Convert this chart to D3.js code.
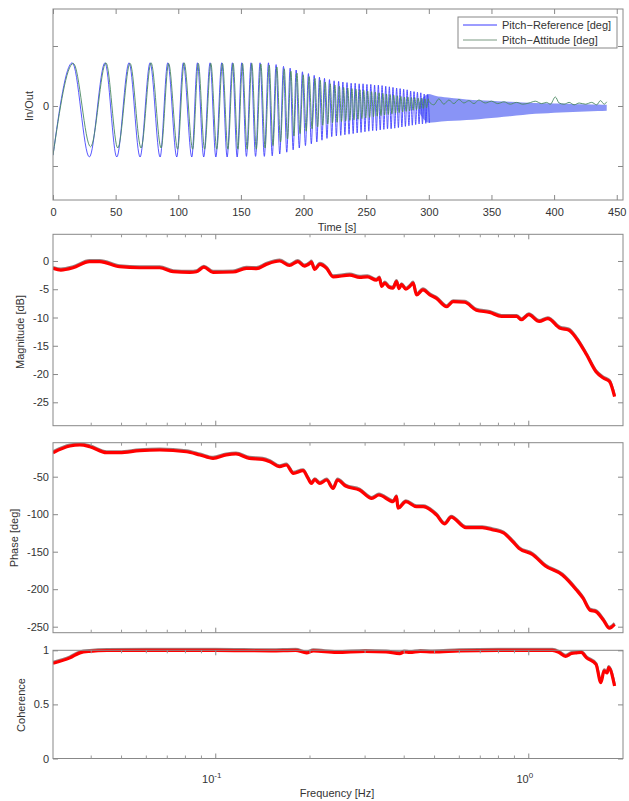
<!DOCTYPE html>
<html>
<head>
<meta charset="utf-8">
<script src="https://cdn.jsdelivr.net/npm/d3@7/dist/d3.min.js"></script>
<style>
  body { margin: 0; background: #fff; }
  svg { display: block; font-family: "Liberation Sans", Arial, Helvetica, sans-serif; }
  .tick text { fill: #333; font-size: 11px; }
  .tick line { stroke: #888; }
</style>
</head>
<body>
<svg id="chart" width="629" height="801"></svg>
<script>
// ---------------- Time-domain data ----------------
const timeTicks = [0, 50, 100, 150, 200, 250, 300, 350, 400, 450];
const inOutTicks = [-1, 0, 1];
const legendLabels = ["Pitch\u2212Reference [deg]", "Pitch\u2212Attitude [deg]"];

// Pitch reference: extrema (peaks / troughs) of the sweep
const refPeakT = [15.4, 41.5, 60.7, 77.5, 91.6, 104, 115.3, 125.4, 134.7, 143.2, 150.7, 158.1, 165.3, 172,
  178.1, 184, 189.3, 194.1, 199.1, 203.9, 208.5, 212.7, 216.7, 220.7, 224.4, 228, 231.4, 234.7, 238, 241.2,
  244.4, 247.5, 250.6, 253.7, 256.7, 259.7, 262.7, 265.6, 268.5, 271.4, 274.3, 277.1, 279.9, 282.7, 285.5,
  288.2, 290.9, 293.6, 296.3, 299];
const refPeakV = [0.72, 0.72, 0.72, 0.72, 0.72, 0.72, 0.72, 0.72, 0.72, 0.72, 0.72, 0.72, 0.72, 0.72,
  0.69, 0.66, 0.63, 0.6, 0.57, 0.54, 0.51, 0.48, 0.46, 0.44, 0.42, 0.41, 0.4, 0.39, 0.38, 0.38,
  0.37, 0.37, 0.36, 0.36, 0.35, 0.35, 0.34, 0.33, 0.32, 0.31, 0.3, 0.29, 0.28, 0.27, 0.25,
  0.24, 0.23, 0.22, 0.2, 0.19];
const refTroughT = [0, 29, 50.9, 69.5, 85.5, 98.8, 110.8, 120.3, 130, 139, 147, 154.4, 161.7, 168.7, 175,
  181, 186.6, 191.7, 196.6, 201.5, 206.2, 210.6, 214.7, 218.7, 222.5, 226.2, 229.7, 233, 236.3, 239.6,
  242.8, 245.9, 249, 252.1, 255.2, 258.2, 261.2, 264.1, 267, 269.9, 272.8, 275.7, 278.5, 281.3, 284.1,
  286.8, 289.5, 292.2, 294.9, 297.6, 300.5];
const refTroughV = [-0.82, -0.85, -0.85, -0.85, -0.85, -0.85, -0.85, -0.85, -0.85, -0.85, -0.85, -0.84, -0.84, -0.84, -0.83,
  -0.8, -0.77, -0.73, -0.7, -0.66, -0.63, -0.6, -0.57, -0.54, -0.51, -0.5, -0.49, -0.48, -0.47, -0.46,
  -0.45, -0.44, -0.43, -0.42, -0.41, -0.41, -0.4, -0.39, -0.38, -0.38, -0.37, -0.36, -0.35, -0.34, -0.33,
  -0.32, -0.31, -0.3, -0.3, -0.29, -0.28];
// dense high-frequency part of the reference: envelope band
const bandT  = [292, 300, 305, 315, 325, 335, 345, 355, 365, 375, 385, 395, 405, 415, 425, 435, 442];
const bandHi = [0.05, 0.2, 0.17, 0.14, 0.12, 0.1, 0.09, 0.08, 0.07, 0.06, 0.05, 0.045, 0.04, 0.035, 0.03, 0.025, 0.02];
const bandLo = [-0.1, -0.28, -0.27, -0.25, -0.24, -0.23, -0.21, -0.19, -0.17, -0.15, -0.13, -0.12, -0.11, -0.1, -0.09, -0.085, -0.08];

// Pitch attitude: extrema
const attPeakT = [16.2, 42.3, 61.5, 78.3, 92.3, 104.7, 116, 126, 135.3, 143.8, 151.3, 158.7, 165.9, 172.6,
  178.7, 184.6, 189.9, 194.7, 199.7, 204.5, 209.1, 213.3, 217.3, 221.3, 225, 228.6, 232, 235.3, 238.6, 241.8,
  245, 248.1, 251.2, 254.3, 257.3, 260.3, 263.3, 266.2, 269.1, 272, 274.9, 277.7, 280.5, 283.3, 286.1,
  288.8, 291.5, 294.2, 296.9, 299.6];
const attPeakV = [0.71, 0.72, 0.71, 0.72, 0.71, 0.72, 0.71, 0.71, 0.71, 0.71, 0.71, 0.71, 0.7, 0.68,
  0.65, 0.62, 0.58, 0.55, 0.52, 0.49, 0.46, 0.43, 0.4, 0.37, 0.35, 0.33, 0.31, 0.3, 0.29, 0.28,
  0.27, 0.26, 0.25, 0.24, 0.23, 0.22, 0.21, 0.2, 0.19, 0.18, 0.17, 0.16, 0.15, 0.15, 0.14,
  0.14, 0.13, 0.13, 0.12, 0.12];
const attTroughT = [0, 30, 51.7, 70.3, 86.3, 99.5, 111.5, 121, 130.7, 139.6, 147.6, 155, 162.3, 169.3, 175.6,
  181.6, 187.2, 192.3, 197.2, 202.1, 206.8, 211.2, 215.3, 219.3, 223.1, 226.8, 230.3, 233.6, 236.9, 240.2,
  243.4, 246.5, 249.6, 252.7, 255.8, 258.8, 261.8, 264.7, 267.6, 270.5, 273.4, 276.3, 279.1, 281.9, 284.7,
  287.4, 290.1, 292.8, 295.5, 298.2];
const attTroughV = [-0.82, -0.68, -0.7, -0.7, -0.7, -0.72, -0.72, -0.72, -0.72, -0.72, -0.72, -0.72, -0.72, -0.7, -0.66,
  -0.6, -0.55, -0.5, -0.46, -0.42, -0.38, -0.35, -0.32, -0.3, -0.28, -0.27, -0.26, -0.25, -0.24, -0.23,
  -0.22, -0.21, -0.2, -0.19, -0.18, -0.17, -0.16, -0.15, -0.14, -0.13, -0.12, -0.11, -0.1, -0.09, -0.08,
  -0.07, -0.06, -0.05, -0.04, -0.03];
// attitude, late low-amplitude part
const attLateT = [300, 304, 308, 312, 316, 320, 324, 328, 332, 336, 340, 345, 350, 355, 360, 365, 370, 375,
  380, 385, 390, 394, 397, 401, 404, 408, 412, 416, 420, 425, 430, 434, 437, 440, 442];
const attLateV = [0.08, 0.02, 0.12, 0.03, 0.1, 0.04, 0.11, 0.05, 0.09, 0.04, 0.1, 0.05, 0.08, 0.04, 0.07, 0.03,
  0.06, 0.03, 0.05, 0.08, 0.04, 0.06, 0.03, 0.15, 0.05, 0.03, 0.06, 0.02, 0.05, 0.03, 0.06, 0.02, 0.09, 0.03, 0.07];

// ---------------- Frequency-domain data ----------------
const freqMajor = [0.1, 1];
const freqMinor = [0.04, 0.05, 0.06, 0.07, 0.08, 0.09, 0.2, 0.3, 0.4, 0.5, 0.6, 0.7, 0.8, 0.9];
const magTicks = [0, -5, -10, -15, -20, -25];
const phaseTicks = [-50, -100, -150, -200, -250];
const cohTicks = [0, 0.5, 1];

const magF = [0.0302, 0.032, 0.035, 0.0395, 0.0426, 0.0493, 0.0571, 0.0662, 0.0731, 0.0826, 0.0868, 0.0916, 0.098,
  0.1135, 0.1253, 0.135, 0.145, 0.16, 0.172, 0.183, 0.192, 0.2, 0.202, 0.207, 0.215, 0.226, 0.237, 0.268, 0.288,
  0.305, 0.326, 0.333, 0.339, 0.347, 0.357, 0.368, 0.378, 0.385, 0.392, 0.405, 0.417, 0.427, 0.438, 0.459, 0.483,
  0.507, 0.546, 0.573, 0.624, 0.68, 0.75, 0.818, 0.914, 0.948, 1.0, 1.08, 1.15, 1.26, 1.34, 1.42, 1.53, 1.64,
  1.73, 1.81, 1.88];
const magDb = [-1.3, -1.6, -1.2, -0.1, -0.1, -1.0, -1.2, -1.2, -1.9, -2.0, -1.9, -1.1, -2.0,
  -1.95, -1.3, -1.35, -0.6, 0, -0.8, -0.1, -0.9, -0.4, -0.2, -1.5, -0.6, -1.3, -2.8, -2.5, -2.9,
  -2.8, -3.4, -3.0, -4.5, -3.9, -4.6, -4.8, -3.65, -4.9, -4.2, -5.0, -4.5, -3.9, -6.0, -5.1, -6.0,
  -6.6, -8.1, -7.2, -7.3, -8.7, -9.1, -9.8, -9.8, -10.4, -9.5, -10.7, -10.2, -11.9, -12.2, -13.7, -16.6, -19.6,
  -20.7, -21.3, -24.0];

const phaseF = [0.0302, 0.0342, 0.0368, 0.0396, 0.0448, 0.0493, 0.0571, 0.0662, 0.0806, 0.089, 0.098, 0.108, 0.116,
  0.128, 0.141, 0.149, 0.16, 0.168, 0.177, 0.19, 0.197, 0.202, 0.207, 0.215, 0.226, 0.237, 0.245, 0.26, 0.288,
  0.315, 0.332, 0.369, 0.378, 0.382, 0.405, 0.438, 0.46, 0.507, 0.538, 0.565, 0.63, 0.71, 0.77, 0.83, 0.89, 0.93,
  1.03, 1.13, 1.28, 1.42, 1.49, 1.57, 1.64, 1.73, 1.81, 1.88];
const phaseDeg = [-18, -9, -7.7, -10, -18, -18, -15.3, -14.4, -16.7, -21, -25.5, -21, -19.7,
  -25.5, -26.8, -30, -36.7, -34.4, -45.5, -42, -52, -59, -54, -59, -54.4, -65.6, -54.4, -62.4, -67.8,
  -79, -74.4, -83.3, -76.7, -92, -83.3, -90, -90, -101, -113, -104, -118, -118, -121, -125, -137, -145.5,
  -154, -169, -181, -201, -212, -228, -230, -241, -252, -247];

const cohF = [0.0302, 0.0342, 0.0368, 0.0396, 0.045, 0.06, 0.1, 0.15, 0.18, 0.195, 0.205, 0.243, 0.3, 0.35, 0.387,
  0.4, 0.417, 0.45, 0.493, 0.6, 0.8, 1.0, 1.19, 1.25, 1.31, 1.37, 1.42, 1.47, 1.53, 1.64, 1.70, 1.74, 1.78, 1.80, 1.88];
const cohV = [0.88, 0.93, 0.976, 0.99, 0.998, 1.0, 1.0, 0.995, 1.0, 0.976, 0.995, 0.98, 0.99, 0.985, 0.97,
  0.985, 0.98, 0.99, 0.985, 0.995, 1.0, 1.0, 1.0, 0.98, 0.944, 0.97, 0.976, 0.98, 0.93, 0.87, 0.70, 0.81, 0.79, 0.84, 0.67];

// ---------------- Drawing ----------------
const svg = d3.select("#chart");
const L = 53, R = 623;
const frameColor = "#888";
const textColor = "#333";

function frame(top, bottom) {
  svg.append("rect").attr("x", L).attr("y", top).attr("width", R - L).attr("height", bottom - top)
    .attr("fill", "none").attr("stroke", frameColor).attr("stroke-width", 1);
}
function clip(id, top, bottom) {
  svg.append("clipPath").attr("id", id).append("rect")
    .attr("x", L).attr("y", top).attr("width", R - L).attr("height", bottom - top);
}
function yAxes(y, ticks, fmt) {
  svg.append("g").attr("transform", `translate(${L},0)`)
    .call(d3.axisLeft(y).tickValues(ticks).tickSizeInner(-5).tickSizeOuter(0).tickPadding(4).tickFormat(fmt))
    .call(g => g.select(".domain").remove());
  svg.append("g").attr("transform", `translate(${R},0)`)
    .call(d3.axisRight(y).tickValues(ticks).tickSizeInner(-5).tickSizeOuter(0).tickFormat(""))
    .call(g => g.select(".domain").remove());
}
function yLabel(text, x, yc) {
  svg.append("text").attr("transform", `translate(${x},${yc}) rotate(-90)`)
    .attr("text-anchor", "middle").attr("fill", textColor).attr("font-size", 11).text(text);
}

// ===== Panel 1: time domain =====
const p1Top = 9, p1Bot = 200;
const xT = d3.scaleLinear().domain([0, 455]).range([L, R]);
const yT = d3.scaleLinear().domain([-1.567, 1.617]).range([p1Bot, p1Top]);
clip("c1", p1Top, p1Bot);

const refPts = refPeakT.map((t, i) => [t, refPeakV[i]])
  .concat(refTroughT.map((t, i) => [t, refTroughV[i]]))
  .sort((a, b) => a[0] - b[0]);
const attPts = attPeakT.map((t, i) => [t, attPeakV[i]])
  .concat(attTroughT.map((t, i) => [t, attTroughV[i]]))
  .concat(attLateT.map((t, i) => [t, attLateV[i]]))
  .sort((a, b) => a[0] - b[0]);

const gT = svg.append("g").attr("clip-path", "url(#c1)");
gT.append("path")
  .datum(bandT.map((t, i) => [t, bandHi[i], bandLo[i]]))
  .attr("fill", "#4c5cf2").attr("fill-opacity", 0.66)
  .attr("d", d3.area().x(d => xT(d[0])).y0(d => yT(d[2])).y1(d => yT(d[1])).curve(d3.curveMonotoneX));
const lineT = d3.line().x(d => xT(d[0])).y(d => yT(d[1])).curve(d3.curveMonotoneX);
gT.append("path").datum(refPts).attr("fill", "none").attr("stroke", "#3b3bff").attr("stroke-width", 1)
  .attr("stroke-opacity", 0.85).attr("d", lineT);
gT.append("path").datum(attPts).attr("fill", "none").attr("stroke", "#4a8a62").attr("stroke-width", 1)
  .attr("stroke-opacity", 0.9).attr("d", lineT);

frame(p1Top, p1Bot);
svg.append("g").attr("transform", `translate(0,${p1Bot})`)
  .call(d3.axisBottom(xT).tickValues(timeTicks).tickSizeInner(-5).tickSizeOuter(0).tickPadding(8).tickFormat(d => String(d)))
  .call(g => g.select(".domain").remove());
svg.append("g").attr("transform", `translate(0,${p1Top})`)
  .call(d3.axisTop(xT).tickValues(timeTicks).tickSizeInner(-5).tickSizeOuter(0).tickFormat(""))
  .call(g => g.select(".domain").remove());
yAxes(yT, inOutTicks, d => d === 0 ? "0" : "");
yLabel("In/Out", 33, 106);
svg.append("text").attr("x", 337).attr("y", 231).attr("text-anchor", "middle")
  .attr("fill", textColor).attr("font-size", 11).text("Time [s]");

// legend
const lg = svg.append("g");
lg.append("rect").attr("x", 458).attr("y", 17).attr("width", 159).attr("height", 31)
  .attr("fill", "#fff").attr("stroke", frameColor);
const legColors = ["#3b3bff", "#7a9a82"];
legendLabels.forEach((lab, i) => {
  const yy = 25 + i * 15;
  lg.append("line").attr("x1", 463).attr("x2", 497).attr("y1", yy).attr("y2", yy)
    .attr("stroke", legColors[i]).attr("stroke-width", 1);
  lg.append("text").attr("x", 502).attr("y", yy + 4).attr("fill", textColor)
    .attr("font-size", 11).text(lab);
});

// ===== Frequency panels =====
const xF = d3.scaleLog().domain([0.0302, 2.0]).range([L, R]);

function freqTicks(top, bottom, labels) {
  [bottom, top].forEach((yy, k) => {
    const dir = k === 0 ? -1 : 1;
    const g = svg.append("g");
    freqMajor.forEach(f => g.append("line").attr("x1", xF(f)).attr("x2", xF(f))
      .attr("y1", yy).attr("y2", yy + dir * 5).attr("stroke", "#888"));
    freqMinor.forEach(f => g.append("line").attr("x1", xF(f)).attr("x2", xF(f))
      .attr("y1", yy).attr("y2", yy + dir * 3).attr("stroke", "#999"));
  });
  if (labels) {
    freqMajor.forEach((f, i) => {
      const t = svg.append("text").attr("x", xF(f) - 4).attr("y", bottom + 24)
        .attr("text-anchor", "middle").attr("fill", textColor).attr("font-size", 11);
      t.append("tspan").text("10");
      t.append("tspan").attr("dy", -5).attr("font-size", 8).text(i === 0 ? "-1" : "0");
    });
  }
}

function redLine(id, data, y) {
  const g = svg.append("g").attr("clip-path", `url(#${id})`);
  const ln = d3.line().x(d => xF(d[0])).y(d => y(d[1])).curve(d3.curveMonotoneX);
  g.append("path").datum(data).attr("fill", "none").attr("stroke", "#300")
    .attr("stroke-width", 2.6).attr("stroke-opacity", 0.5).attr("transform", "translate(0,-1.2)").attr("d", ln);
  g.append("path").datum(data).attr("fill", "none").attr("stroke", "#ff0000")
    .attr("stroke-width", 3.2).attr("stroke-linejoin", "round").attr("d", ln);
}

// Magnitude
const p2Top = 234.3, p2Bot = 425.7;
const yM = d3.scaleLinear().domain([-29.14, 4.72]).range([p2Bot, p2Top]);
clip("c2", p2Top, p2Bot);
redLine("c2", magF.map((f, i) => [f, magDb[i]]), yM);
frame(p2Top, p2Bot);
yAxes(yM, magTicks, d => String(d));
freqTicks(p2Top, p2Bot, false);
yLabel("Magnitude [dB]", 24, 332);

// Phase
const p3Top = 442.7, p3Bot = 632.7;
const yP = d3.scaleLinear().domain([-258, -4.67]).range([p3Bot, p3Top]);
clip("c3", p3Top, p3Bot);
redLine("c3", phaseF.map((f, i) => [f, phaseDeg[i]]), yP);
frame(p3Top, p3Bot);
yAxes(yP, phaseTicks, d => String(d));
freqTicks(p3Top, p3Bot, false);
yLabel("Phase [deg]", 18, 538);

// Coherence
const p4Top = 650.3, p4Bot = 758.5;
const yC = d3.scaleLinear().domain([0, 1]).range([p4Bot, p4Top]);
clip("c4", p4Top - 3, p4Bot);
redLine("c4", cohF.map((f, i) => [f, cohV[i]]), yC);
frame(p4Top, p4Bot);
yAxes(yC, cohTicks, d => String(d));
freqTicks(p4Top, p4Bot, true);
yLabel("Coherence", 25, 705);
svg.append("text").attr("x", 337).attr("y", 797).attr("text-anchor", "middle")
  .attr("fill", textColor).attr("font-size", 11).text("Frequency [Hz]");
</script>
</body>
</html>
